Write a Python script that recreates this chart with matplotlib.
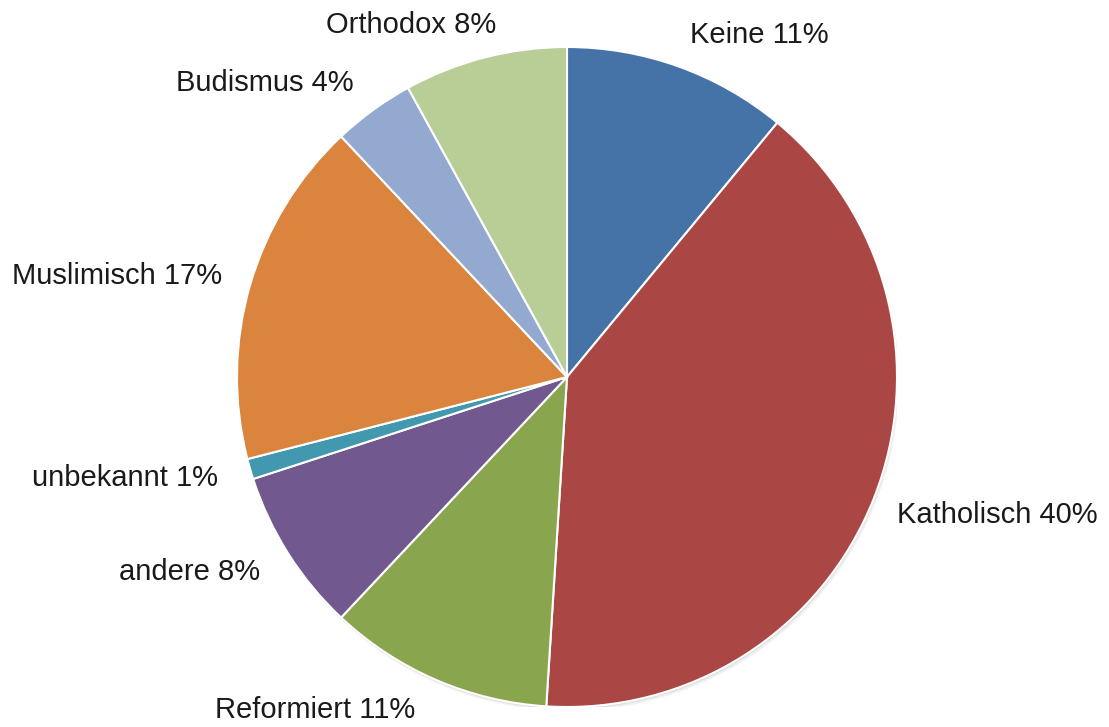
import matplotlib
matplotlib.use('Agg')
import matplotlib.pyplot as plt
from matplotlib.patches import Circle

plt.rcParams['font.family'] = ['Liberation Sans', 'DejaVu Sans']

labels = ['Keine', 'Katholisch', 'Reformiert', 'andere', 'unbekannt',
          'Muslimisch', 'Budismus', 'Orthodox']
shares = [11, 40, 11, 8, 1, 17, 4, 8]
colors = ['#4572A7', '#AA4643', '#89A54E', '#71588F', '#4198AF',
          '#DB843D', '#93A9CF', '#B9CD96']

W, H = 1109, 727
fig = plt.figure(figsize=(W / 100, H / 100), dpi=100)
# pie centre at (567, 377) px from top-left, radius 330 px
side = 660
ax = fig.add_axes([(567 - side / 2) / W, (H - 377 - side / 2) / H, side / W, side / H])

# soft rim shadow
for off, a in [(0.006, 0.18), (0.012, 0.10)]:
    ax.add_patch(Circle((off * 0.5, -off), 1.0, color='#7f7f7f', alpha=a, lw=0, zorder=0))

texts = [f'{l} {s}%' for l, s in zip(labels, shares)]
wedges, lbls = ax.pie(shares, labels=texts, colors=colors, startangle=90,
                      counterclock=False, labeldistance=1.1,
                      wedgeprops=dict(edgecolor='white', linewidth=1.5),
                      textprops=dict(fontsize=21, color='#1a1a1a'))
for w in wedges:
    w.set_zorder(2)

# small hand nudges of a few labels (data units, 1 = radius)
nudge = {'Katholisch': (-0.024, -0.012), 'Reformiert': (-0.024, 0.0),
         'Muslimisch': (0.012, 0.0), 'Orthodox': (0.06, 0.0)}
for name, t in zip(labels, lbls):
    if name in nudge:
        x, y = t.get_position()
        dx, dy = nudge[name]
        t.set_position((x + dx, y + dy))

ax.set_xlim(-1, 1)
ax.set_ylim(-1, 1)
ax.set_aspect('equal')
ax.axis('off')

fig.savefig('out.png', dpi=100, facecolor='white')
